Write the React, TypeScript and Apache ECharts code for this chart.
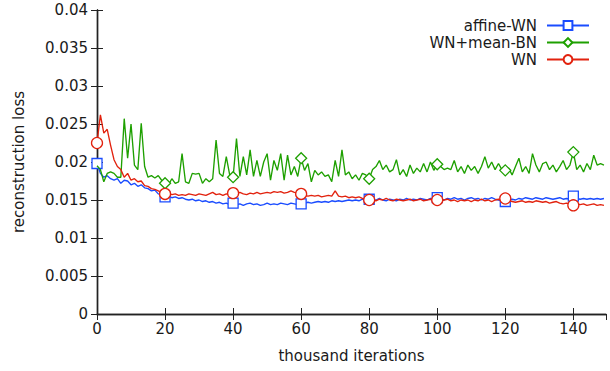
import React, { useEffect, useRef } from "react";
import * as echarts from "echarts";

// thousand iterations: one sample per 1k iterations, 0..149
const ITER_COUNT = 150;
const X_MAX = 149.6;
const MARK_EVERY = 20;

const affineWN = [
  0.0198, 0.0185, 0.018, 0.0182, 0.0178, 0.0176, 0.0178, 0.0172, 0.0176, 0.0175,
  0.017, 0.0172, 0.0168, 0.017, 0.0166, 0.0165, 0.0162, 0.0163, 0.0158, 0.0157,
  0.0154, 0.0155, 0.0153, 0.0154, 0.0152, 0.0153, 0.0151, 0.015, 0.0151, 0.0149,
  0.015, 0.0148, 0.0149, 0.0147, 0.0148, 0.0146, 0.0147, 0.0145, 0.0146, 0.0144,
  0.0146, 0.0144, 0.0145, 0.0143, 0.0145, 0.0146, 0.0144, 0.0145, 0.0143, 0.0144,
  0.0146, 0.0144, 0.0145, 0.0144, 0.0146, 0.0145, 0.0144, 0.0146, 0.0145, 0.0144,
  0.0145, 0.0146, 0.0147, 0.0146, 0.0147, 0.0148, 0.0147, 0.0148, 0.0147, 0.0149,
  0.0148, 0.0149, 0.0148, 0.0149, 0.015, 0.0149, 0.015, 0.0149, 0.0151, 0.015,
  0.0151, 0.0149, 0.015, 0.0152, 0.015, 0.0149, 0.0151, 0.015, 0.0149, 0.0151,
  0.015, 0.0152, 0.015, 0.0151, 0.015, 0.0152, 0.0151, 0.015, 0.0152, 0.0151,
  0.0153, 0.0151, 0.015, 0.0152, 0.0151, 0.0153, 0.0151, 0.0152, 0.015, 0.0152,
  0.0153, 0.0151, 0.0152, 0.015, 0.0152, 0.0151, 0.0153, 0.0151, 0.015, 0.0149,
  0.0148, 0.015, 0.0151, 0.015, 0.0152, 0.0151, 0.0153, 0.0152, 0.0151, 0.0153,
  0.0152, 0.0151, 0.0153, 0.0152, 0.0151, 0.0152, 0.0153, 0.0151, 0.0152, 0.0151,
  0.0155, 0.0152, 0.0151, 0.0152, 0.0151, 0.0152, 0.0151, 0.0152, 0.0151, 0.0152,
];

const wnMeanBN = [
  0.0195, 0.019, 0.0174, 0.0185, 0.0187, 0.0185, 0.018, 0.018, 0.0257, 0.0205,
  0.025, 0.0196, 0.019, 0.0251, 0.0194, 0.018, 0.0182, 0.0179, 0.0182, 0.0176,
  0.0172, 0.017, 0.0178, 0.0172, 0.0174, 0.0211, 0.0174, 0.0172, 0.0185, 0.0184,
  0.0185, 0.0172, 0.0178, 0.0174, 0.0178, 0.0229, 0.0185, 0.0181, 0.0207, 0.0183,
  0.018, 0.0231, 0.0181, 0.0207, 0.0183, 0.0216, 0.0181, 0.0202, 0.0181, 0.02,
  0.0211, 0.0176, 0.0202, 0.0189, 0.0211, 0.0176, 0.0209, 0.0183, 0.0194, 0.0181,
  0.0205, 0.0189, 0.0198, 0.0174, 0.0189, 0.0183, 0.0187, 0.0181, 0.0183, 0.0174,
  0.0202, 0.0181, 0.0216, 0.0183, 0.0187, 0.0178, 0.0183, 0.0176, 0.0185, 0.0183,
  0.0178, 0.019, 0.0194, 0.0202, 0.019, 0.0196, 0.0187, 0.019, 0.0203, 0.0183,
  0.019, 0.0181, 0.0196, 0.0185, 0.0192, 0.0187, 0.0198, 0.0187, 0.02, 0.0189,
  0.0197, 0.0194, 0.019, 0.0192, 0.019, 0.0202, 0.0187, 0.0194, 0.0185, 0.0196,
  0.0189, 0.0194, 0.0185, 0.0194, 0.0207, 0.0192, 0.02, 0.019, 0.0198, 0.019,
  0.0189, 0.0192, 0.0183, 0.0194, 0.0205, 0.0187, 0.0194, 0.0185, 0.0211, 0.0196,
  0.0187, 0.0198, 0.02, 0.019, 0.0196, 0.0187, 0.0194, 0.0202, 0.019, 0.0196,
  0.0213, 0.019, 0.0196, 0.0187, 0.0198, 0.019, 0.0209, 0.0196, 0.0198, 0.0196,
];

const wn = [
  0.0225, 0.0262, 0.0238, 0.0243, 0.0222, 0.0203, 0.0194, 0.019, 0.018, 0.0185,
  0.0176, 0.0178, 0.0174, 0.0175, 0.0169, 0.0168, 0.0165, 0.0164, 0.0162, 0.016,
  0.0158, 0.0159, 0.0157, 0.0158, 0.0156, 0.0157, 0.0156, 0.0158, 0.0157, 0.0156,
  0.0158, 0.0157, 0.0156, 0.0158, 0.016, 0.0157, 0.0158, 0.0156, 0.0158, 0.0157,
  0.0159, 0.0158, 0.016, 0.0158, 0.0157, 0.0159, 0.0158, 0.016, 0.0158, 0.0159,
  0.016, 0.0159, 0.0161, 0.016, 0.0161, 0.0159, 0.016, 0.0162, 0.016, 0.0159,
  0.0158, 0.0156, 0.0155, 0.0156, 0.0155, 0.0156, 0.0154, 0.0155, 0.0156, 0.0155,
  0.0162, 0.0155, 0.0154, 0.0155, 0.0153, 0.0154, 0.0153, 0.0154, 0.0152, 0.0151,
  0.015, 0.0151, 0.0149, 0.0151, 0.015, 0.0152, 0.015, 0.0149, 0.0151, 0.015,
  0.0149, 0.015, 0.0151, 0.0149, 0.015, 0.0151, 0.0149, 0.015, 0.0151, 0.015,
  0.015, 0.0149, 0.015, 0.0151, 0.0149, 0.015, 0.0148, 0.015, 0.0149, 0.015,
  0.0148, 0.015, 0.0149, 0.0151, 0.0149, 0.015, 0.0148, 0.015, 0.0151, 0.015,
  0.0152, 0.015, 0.0148, 0.0147, 0.0148, 0.0149, 0.0147, 0.0148, 0.0147, 0.0149,
  0.0148, 0.0147, 0.0148, 0.0146, 0.0147, 0.0148, 0.0146, 0.0145, 0.0146, 0.0145,
  0.0143, 0.0145, 0.0144, 0.0145, 0.0143, 0.0144, 0.0145, 0.0143, 0.0144, 0.0143,
];

const seriesNames = ["affine-WN", "WN+mean-BN", "WN"];
const seriesValues = [affineWN, wnMeanBN, wn];
const seriesColors = ["#1a4cff", "#1ea000", "#e2220e"];
const seriesSymbols = ["rect", "diamond", "circle"];
const seriesSymbolSizes = [10, 11, 11];
const seriesFirstMark = [0, 20, 0];

const xTicks = [0, 20, 40, 60, 80, 100, 120, 140];
const yTicks = [0, 0.005, 0.01, 0.015, 0.02, 0.025, 0.03, 0.035, 0.04];

const FONT = "DejaVu Sans";
const FONT_SIZE = 15;
const AXIS_COLOR = "#222";
const TEXT_COLOR = "#1a1a1a";

function buildData(values: number[], firstMark: number) {
  const out: any[] = [];
  for (let i = 0; i < Math.min(values.length, ITER_COUNT); i++) {
    if (i % MARK_EVERY === 0 && i >= firstMark) out.push({ value: [i, values[i]] });
    else out.push({ value: [i, values[i]], symbol: "none" });
  }
  return out;
}

function fmtY(v: number) {
  return String(parseFloat(v.toFixed(3)));
}

export default function App() {
  const ref = useRef<HTMLDivElement>(null);
  useEffect(() => {
    const chart = echarts.init(ref.current!, null, { renderer: "svg" });
    const xCommon = {
      type: "value",
      min: xTicks[0],
      max: X_MAX,
      interval: 20,
      splitLine: { show: false },
      axisLine: { show: true, lineStyle: { color: AXIS_COLOR, width: 1.4 } },
      axisTick: { show: true, inside: true, length: 6, lineStyle: { color: AXIS_COLOR, width: 1 } },
    };
    const yCommon = {
      type: "value",
      min: yTicks[0],
      max: yTicks[yTicks.length - 1],
      interval: 0.005,
      splitLine: { show: false },
      axisLine: { show: true, lineStyle: { color: AXIS_COLOR, width: 1.4 } },
      axisTick: { show: true, inside: true, length: 6, lineStyle: { color: AXIS_COLOR, width: 1 } },
    };
    const option: any = {
      animation: false,
      backgroundColor: "#fff",
      grid: { left: 97, right: 4, top: 10, bottom: 57, containLabel: false },
      legend: {
        orient: "vertical",
        right: 20,
        top: 18,
        padding: 0,
        align: "right",
        itemWidth: 42,
        itemHeight: 11,
        itemGap: 2,
        data: seriesNames,
        textStyle: { fontFamily: FONT, fontSize: FONT_SIZE, color: TEXT_COLOR, lineHeight: 15, padding: [0, 5, 0, 0] },
      },
      xAxis: [
        {
          ...xCommon,
          position: "bottom",
          name: "thousand iterations",
          nameLocation: "middle",
          nameGap: 34,
          nameTextStyle: { fontFamily: FONT, fontSize: FONT_SIZE, color: TEXT_COLOR },
          axisLabel: {
            show: true,
            margin: 7,
            fontFamily: FONT,
            fontSize: FONT_SIZE,
            color: TEXT_COLOR,
            showMaxLabel: false,
            formatter: (v: number) => (xTicks.indexOf(v) >= 0 ? String(v) : ""),
          },
        },
        { ...xCommon, position: "top", axisLabel: { show: false } },
      ],
      yAxis: [
        {
          ...yCommon,
          position: "left",
          name: "reconstruction loss",
          nameLocation: "middle",
          nameGap: 71,
          nameTextStyle: { fontFamily: FONT, fontSize: FONT_SIZE, color: TEXT_COLOR },
          axisLabel: {
            show: true,
            margin: 9,
            fontFamily: FONT,
            fontSize: FONT_SIZE,
            color: TEXT_COLOR,
            formatter: (v: number) => fmtY(v),
          },
        },
        { ...yCommon, position: "right", axisLabel: { show: false } },
      ],
      series: seriesNames.map((name, k) => ({
        name,
        type: "line",
        xAxisIndex: 0,
        yAxisIndex: 0,
        data: buildData(seriesValues[k], seriesFirstMark[k]),
        symbol: seriesSymbols[k],
        symbolSize: seriesSymbolSizes[k],
        showSymbol: true,
        showAllSymbol: true,
        lineStyle: { color: seriesColors[k], width: 1.35 },
        itemStyle: { color: "#fff", borderColor: seriesColors[k], borderWidth: 1.3 },
        emphasis: { disabled: true },
        z: 2 + k,
      })),
    };
    chart.setOption(option);
    return () => chart.dispose();
  }, []);
  return (
    <div
      ref={ref}
      style={{ position: "fixed", left: 0, top: 0, width: 610, height: 371, background: "#fff" }}
    />
  );
}
